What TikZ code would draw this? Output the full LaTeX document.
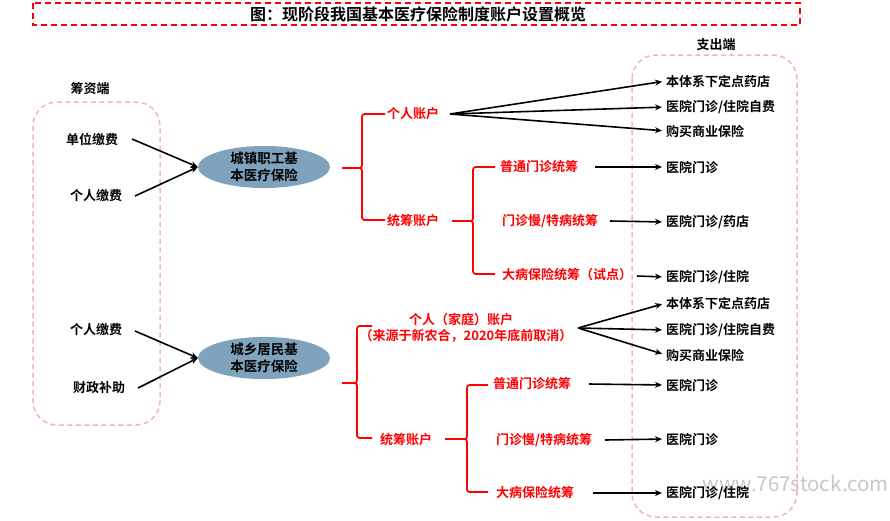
\documentclass[tikz,border=0pt]{standalone}
\usepackage{fontspec}
\setmainfont{Noto Sans CJK SC}[BoldFont={Noto Sans CJK SC Bold}]
\usetikzlibrary{shapes.geometric,arrows.meta}
\definecolor{ellblue}{HTML}{7FA3BD}
\definecolor{pinkdash}{HTML}{F7B3B3}
\definecolor{myred}{HTML}{FF0000}
\newcommand{\mybrace}[6]{%
  \draw[redline] (#1,#4) -- (#2-5,#4) .. controls (#2,#4) .. (#2,#4-6) -- (#2,#3+6) .. controls (#2,#3) .. (#2+6,#3) -- (#6,#3);
  \draw[redline] (#2-5,#4) .. controls (#2,#4) .. (#2,#4+6) -- (#2,#5-6) .. controls (#2,#5) .. (#2+6,#5) -- (#6,#5);
}
\begin{document}
\begin{tikzpicture}[x=1pt,y=-1pt,
  txt/.style={font=\fontsize{13}{16}\selectfont\bfseries, inner sep=0pt, text=black},
  rtxt/.style={font=\fontsize{13}{16}\selectfont\bfseries, inner sep=0pt, text=myred},
  ell/.style={ellipse, fill=ellblue, minimum width=132pt, minimum height=42pt, inner sep=0pt, align=center, font=\fontsize{13.5}{17}\selectfont\bfseries},
  arr/.style={draw=black, line width=1.6pt, -{Stealth[length=7pt,width=6pt]}},
  redline/.style={draw=myred, line width=1.8pt, line join=round},
  pinkbox/.style={draw=pinkdash, line width=1.5pt, dash pattern=on 5pt off 3.5pt, rounded corners=24pt}
]
\useasboundingbox (0,0) rectangle (890,520);
% title
\draw[draw=myred, line width=1.8pt, dash pattern=on 6pt off 4pt] (33,3) rectangle (800,25);
\node[txt, font=\fontsize{16}{18}\selectfont\bfseries] (title) at (418,14) {图：现阶段我国基本医疗保险制度账户设置概览};
% section labels
\node[txt] (zcd) at (716,45) {支出端};
\node[txt] (czd) at (90,89) {筹资端};
\draw[pinkbox] (33,102) rectangle (160,425);
\draw[pinkbox] (632,55) rectangle (797,517);
% watermark
\node[font=\fontsize{20.5}{22}\selectfont, text=black!22, anchor=east, inner sep=0pt] (wm) at (889,483) {www.767stock.com};
% funding sources
\node[txt] (dw) at (92,139) {单位缴费};
\node[txt] (gr1) at (96,196) {个人缴费};
\node[txt] (gr2) at (96,330) {个人缴费};
\node[txt] (cz) at (99,388) {财政补助};
% ellipses
\node[ell] (zg) at (264,167) {城镇职工基\\本医疗保险};
\node[ell] (jm) at (264,358) {城乡居民基\\本医疗保险};
\draw[arr] (132,139) -- (zg.west);
\draw[arr] (135,196) -- (zg.west);
\draw[arr] (135,331) -- (jm.west);
\draw[arr] (138,388) -- (jm.west);
% top branch
\mybrace{342}{362}{114}{168}{220}{385}
\node[rtxt, anchor=west] (grzh1) at (387,114) {个人账户};
\node[rtxt, anchor=west] (tczh1) at (387,221) {统筹账户};
\mybrace{452}{473}{167}{221}{274}{495}
\node[rtxt, anchor=west] (pt1) at (500,167) {普通门诊统筹};
\node[rtxt, anchor=west] (mz1) at (502,221) {门诊慢/特病统筹};
\node[rtxt, anchor=west] (db1) at (502,275) {大病保险统筹（试点）};
% right texts top
\node[txt, anchor=west] (r1) at (666,81) {本体系下定点药店};
\node[txt, anchor=west] (r2) at (666,107) {医院门诊/住院自费};
\node[txt, anchor=west] (r3) at (666,131) {购买商业保险};
\node[txt, anchor=west] (r4) at (666,167) {医院门诊};
\node[txt, anchor=west] (r5) at (666,222) {医院门诊/药店};
\node[txt, anchor=west] (r6) at (666,277) {医院门诊/住院};
\coordinate (s1) at (450,114);
\draw[arr, shorten >=4pt] (s1) -- (r1.west);
\draw[arr, shorten >=4pt] (s1) -- (r2.west);
\draw[arr, shorten >=4pt] (s1) -- (r3.west);
\draw[arr, shorten >=4pt] (595,167) -- (r4.west);
\draw[arr, shorten >=4pt] (610,221) -- (r5.west);
\draw[arr, shorten >=4pt] (637,276) -- (r6.west);
% bottom branch
\mybrace{342}{357}{326}{383}{438}{372}
\node[rtxt] (grzh2) at (461,320) {个人（家庭）账户};
\node[rtxt] (grzh2b) at (466,336) {（来源于新农合，2020年底前取消）};
\node[rtxt, anchor=west] (tczh2) at (380,440) {统筹账户};
\mybrace{445}{467}{385}{439}{492}{488}
\node[rtxt, anchor=west] (pt2) at (493,384) {普通门诊统筹};
\node[rtxt, anchor=west] (mz2) at (496,440) {门诊慢/特病统筹};
\node[rtxt, anchor=west] (db2) at (496,493) {大病保险统筹};
\node[txt, anchor=west] (b1) at (666,303) {本体系下定点药店};
\node[txt, anchor=west] (b2) at (666,330) {医院门诊/住院自费};
\node[txt, anchor=west] (b3) at (666,355) {购买商业保险};
\node[txt, anchor=west] (b4) at (666,385) {医院门诊};
\node[txt, anchor=west] (b5) at (666,439) {医院门诊};
\node[txt, anchor=west] (b6) at (666,493) {医院门诊/住院};
\coordinate (s2) at (578,328);
\draw[arr, shorten >=4pt] (s2) -- (b1.west);
\draw[arr, shorten >=4pt] (s2) -- (b2.west);
\draw[arr, shorten >=4pt] (s2) -- (b3.west);
\draw[arr, shorten >=4pt] (589,384) -- (b4.west);
\draw[arr, shorten >=4pt] (605,440) -- (b5.west);
\draw[arr, shorten >=4pt] (593,493) -- (b6.west);
\end{tikzpicture}
\end{document}
